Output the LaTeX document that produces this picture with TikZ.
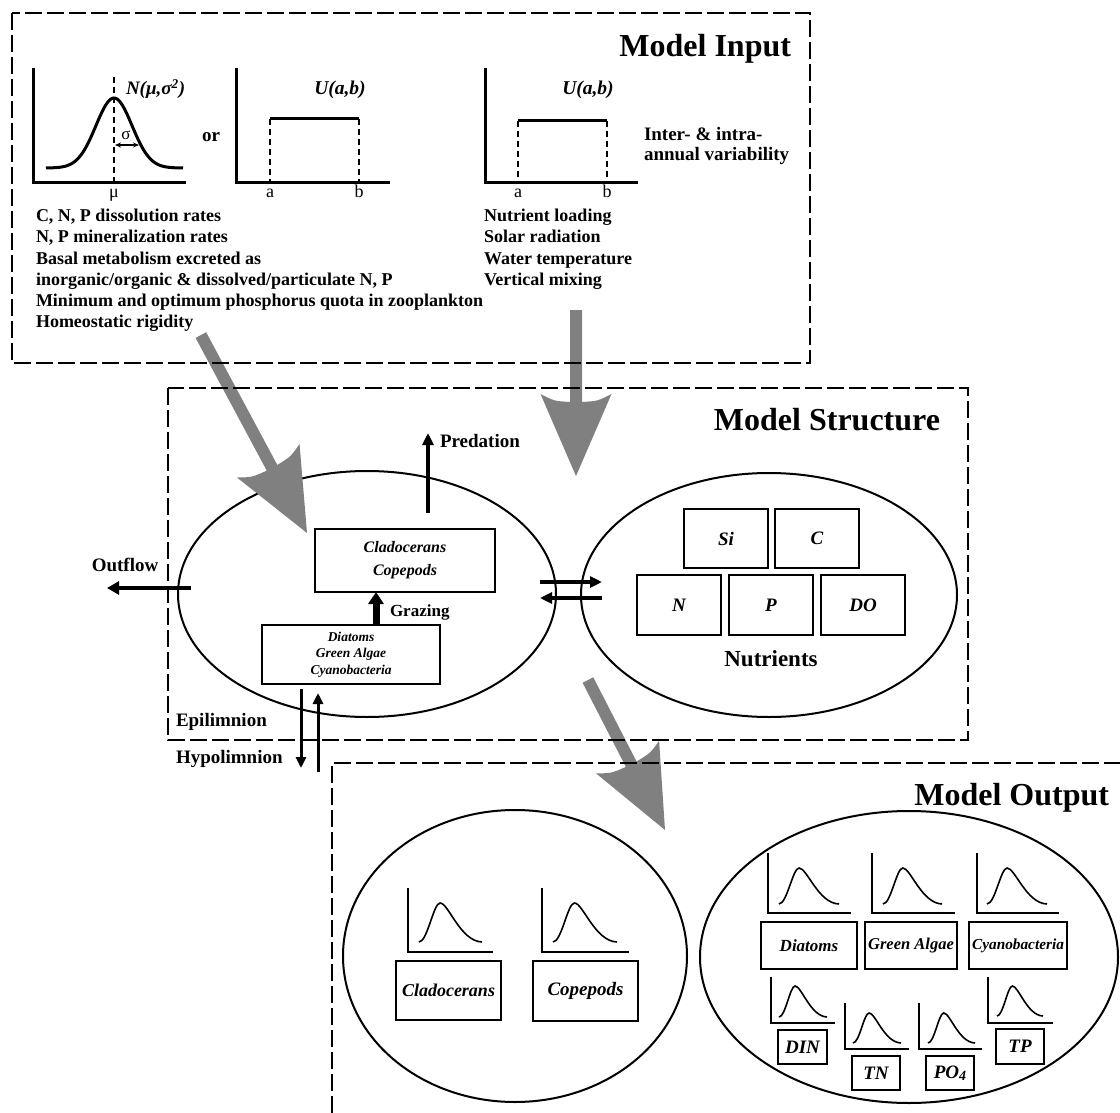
\documentclass[tikz,border=0pt]{standalone}
\usepackage{fontspec}
\setmainfont{Liberation Serif}
\usetikzlibrary{arrows.meta,shapes.geometric}
\definecolor{arrowgray}{gray}{0.5}
\newcommand\fsz[1]{\fontsize{#1}{#1}\selectfont}
% gray arrow: tip, canvas angle, total length
\newcommand\grayarr[3]{%
  \begin{scope}[shift={#1},rotate=#2]
    \fill[arrowgray] (0,0) -- (-82,35.5) .. controls (-75,22) .. (-74,6) -- (-#3,6) -- (-#3,-6) -- (-74,-6) .. controls (-75,-22) .. (-82,-35.5) -- cycle;
  \end{scope}}
% mini graph: axis x, top y, bottom y, right x, curve start x, base y, W, H
\newcommand\minigraph[8]{%
  \draw[miniaxis] (#1,#2) -- (#1,#3) -- (#4,#3);
  \begin{scope}[shift={(#5,#6)},xscale=#7,yscale=#8]
    \draw[minicurve] (0,0) .. controls (0.133,0) and (0.229,-1) .. (0.335,-1) .. controls (0.468,-1) and (0.654,-0.02) .. (1,0);
  \end{scope}}
\begin{document}
\begin{tikzpicture}[x=1pt,y=-1pt,
  every node/.style={inner sep=0pt,outer sep=0pt},
  dbox/.style={line width=2.5pt,dash pattern=on 17pt off 5pt},
  lake/.style={draw,ellipse,line width=2pt},
  axisline/.style={line width=3pt},
  bigcurve/.style={line width=3pt},
  thindash/.style={line width=1.5pt,dash pattern=on 6pt off 4pt},
  miniaxis/.style={line width=2pt},
  minicurve/.style={line width=1.6pt},
  ibox/.style={draw,line width=2pt,align=center},
  nbox/.style={draw,line width=2.5pt,font=\bfseries\itshape\fsz{19}},
  obox/.style={draw,line width=2.5pt},
  lbl/.style={font=\bfseries\fsz{19}},
  ]
\path[use as bounding box,fill=white] (0,0) rectangle (1120,1113);

% ---------- ellipses ----------
\node[lake,minimum width=378pt,minimum height=246pt] (epi) at (367,594) {};
\node[lake,minimum width=376pt,minimum height=244pt] (nut) at (769,595) {};
\node[lake,minimum width=344pt,minimum height=292pt] (ozoo) at (515,956) {};
\node[lake,minimum width=418pt,minimum height=292pt] (ophy) at (909,957) {};

% ---------- gray arrows ----------
\grayarr{(307,533)}{-61.8}{224.6}
\grayarr{(576,476)}{-90}{166}
\grayarr{(665,830)}{-62.8}{168.6}

% ---------- dashed frames ----------
\draw[dbox] (12,13) rectangle (810,363);
\draw[dbox] (168,388) rectangle (968,740);
\draw[dbox] (332,1113) -- (332,763) -- (1120,763);

% ---------- titles ----------
\node[anchor=base east,font=\bfseries\fsz{32}] (tin) at (791,57) {Model Input};
\node[anchor=base east,font=\bfseries\fsz{32}] (tstr) at (940,430) {Model Structure};
\node[anchor=base east,font=\bfseries\fsz{32}] (tout) at (1109,805) {Model Output};

% ---------- Model input graphs ----------
\draw[axisline] (33,68) -- (33,183) -- (186,183);
\draw[bigcurve] plot[domain=46:183,samples=80,smooth] (\x,{168-70*exp(-((\x-114)/18)^2/2)});
\draw[thindash] (114,77) -- (114,183);
\draw[line width=1.3pt,{Stealth[length=6pt 0 0,width=5pt 0 0]}-{Stealth[length=6pt 0 0,width=5pt 0 0]}] (115,145) -- (139,145);
\node[anchor=base,font=\fsz{17}] (sig) at (126,140) {σ};
\node[anchor=base,font=\fsz{18}] (mu) at (114,198) {μ};
\node[anchor=base west,font=\bfseries\itshape\fsz{19}] (nlab) at (126,95) {N(μ,σ\textsuperscript{2})};
\node[anchor=base,font=\bfseries\fsz{19}] (or) at (211,142) {or};

\draw[axisline] (236,68) -- (236,183) -- (390,183);
\draw[axisline] (270,119) -- (359,119);
\draw[thindash] (270,119) -- (270,183);
\draw[thindash] (359,119) -- (359,183);
\node[anchor=base,font=\fsz{18}] (a1) at (270,198) {a};
\node[anchor=base,font=\fsz{18}] (b1) at (359,198) {b};
\node[anchor=base,font=\bfseries\itshape\fsz{19.5}] (u1) at (340,95) {U(a,b)};

\draw[axisline] (485,68) -- (485,183) -- (638,183);
\draw[axisline] (518,121) -- (607,121);
\draw[thindash] (518,121) -- (518,183);
\draw[thindash] (607,121) -- (607,183);
\node[anchor=base,font=\fsz{18}] (a2) at (518,198) {a};
\node[anchor=base,font=\fsz{18}] (b2) at (607,198) {b};
\node[anchor=base,font=\bfseries\itshape\fsz{19.5}] (u2) at (588,95) {U(a,b)};

\node[anchor=base west,lbl] (var1) at (644,141) {Inter- \& intra-};
\node[anchor=base west,lbl] (var2) at (644,161) {annual variability};

\begin{scope}[every node/.append style={anchor=base west,font=\bfseries\fsz{18}}]
\node (p1) at (36,222) {C, N, P dissolution rates};
\node (p2) at (36,243) {N, P mineralization rates};
\node (p3) at (36,264) {Basal metabolism excreted as};
\node (p4) at (36,285) {inorganic/organic \& dissolved/particulate N, P};
\node (p5) at (36,306) {Minimum and optimum phosphorus quota in zooplankton};
\node (p6) at (36,327) {Homeostatic rigidity};
\node (e1) at (484,222) {Nutrient loading};
\node (e2) at (484,243) {Solar radiation};
\node (e3) at (484,264) {Water temperature};
\node (e4) at (484,285) {Vertical mixing};
\end{scope}

% ---------- Model structure ----------
\node[ibox,minimum width=180pt,minimum height=63pt,font=\bfseries\itshape\fontsize{16}{23}\selectfont] (zoo) at (405,560.5)
  {Cladocerans\\Copepods};
\node[ibox,minimum width=178pt,minimum height=59pt,font=\bfseries\itshape\fontsize{13.5}{16.5}\selectfont] (phyto) at (351,654.5)
  {Diatoms\\Green Algae\\Cyanobacteria};

\coordinate (gx) at (376,0);
\draw[line width=7pt,-{Triangle[length=12pt 0 0,width=15pt 0 0]}] (phyto.north -| gx) -- (zoo.south -| gx);
\node[anchor=base west,font=\bfseries\fsz{17}] (graz) at (390,616) {Grazing};

\coordinate (pr0) at (428,513);
\coordinate (pr1) at (428,433);
\draw[line width=3.5pt,-{Triangle[length=12pt 0 0,width=11pt 0 0]}] (pr0) -- (pr1);
\node[anchor=base west,lbl] (pred) at (440,447) {Predation};

\coordinate (of0) at (191,588);
\coordinate (of1) at (107,588);
\draw[line width=4pt,-{Triangle[length=12pt 0 0,width=13pt 0 0]}] (of0) -- (of1);
\node[anchor=base,lbl] (outf) at (125,571) {Outflow};

\coordinate (da0) at (540,582);
\coordinate (da1) at (602,582);
\coordinate (db0) at (602,598);
\coordinate (db1) at (540,598);
\draw[line width=4pt,-{Triangle[length=12pt 0 0,width=11pt 0 0]}] (da0) -- (da1);
\draw[line width=4pt,-{Triangle[length=12pt 0 0,width=11pt 0 0]}] (db0) -- (db1);

\node[nbox,minimum width=84pt,minimum height=59pt] (si) at (726,538.5) {Si};
\node[nbox,minimum width=84pt,minimum height=59pt] (cc) at (817,538.5) {C};
\node[nbox,minimum width=84pt,minimum height=60pt] (nn) at (679,605) {N};
\node[nbox,minimum width=84pt,minimum height=60pt] (pp) at (771,605) {P};
\node[nbox,minimum width=84pt,minimum height=60pt] (do) at (863,605) {DO};
\node[anchor=base,font=\bfseries\fsz{23}] (nutl) at (771,666) {Nutrients};

\coordinate (vd0) at (301,689);
\coordinate (vd1) at (301,768);
\coordinate (vu0) at (318,772);
\coordinate (vu1) at (318,693);
\draw[line width=3pt,-{Triangle[length=11pt 0 0,width=10pt 0 0]}] (vd0) -- (vd1);
\draw[line width=3pt,-{Triangle[length=11pt 0 0,width=10pt 0 0]}] (vu0) -- (vu1);
\node[anchor=base west,lbl] (epil) at (176,726) {Epilimnion};
\node[anchor=base west,lbl] (hypl) at (176,763) {Hypolimnion};

% ---------- Model output ----------
\minigraph{408}{888}{952}{493}{419}{942}{63}{39}
\minigraph{542}{888}{952}{629}{553}{942}{64}{39}
\node[obox,minimum width=105pt,minimum height=59pt,font=\bfseries\itshape\fsz{18}] (oclad) at (448.5,990.5) {Cladocerans};
\node[obox,minimum width=105pt,minimum height=60pt,font=\bfseries\itshape\fsz{19}] (ocope) at (585.5,991) {Copepods};

\minigraph{768}{853}{913}{851}{779}{904}{60}{36}
\minigraph{872}{853}{913}{955}{883}{904}{59}{36}
\minigraph{977}{853}{913}{1059}{987}{904}{60}{36}
\node[obox,minimum width=96pt,minimum height=47pt,font=\bfseries\itshape\fsz{17}] (odia) at (809,945.5) {Diatoms};
\node[obox,minimum width=92pt,minimum height=47pt,font=\bfseries\itshape\fsz{16.5}] (ogre) at (911,945.5) {Green Algae};
\node[obox,minimum width=98pt,minimum height=47pt,font=\bfseries\itshape\fsz{15.3}] (ocya) at (1018,945.5) {Cyanobacteria};

\minigraph{771}{977}{1023}{835}{779}{1017}{48}{31}
\minigraph{845}{1003}{1049}{909}{853}{1043}{48}{30}
\minigraph{919}{1003}{1049}{982}{928}{1043}{47}{30}
\minigraph{988}{977}{1023}{1053}{997}{1016}{46}{30}
\node[obox,minimum width=49pt,minimum height=34pt,font=\bfseries\itshape\fsz{19}] (odin) at (802.5,1047) {DIN};
\node[obox,minimum width=48pt,minimum height=34pt,font=\bfseries\itshape\fsz{19}] (otn) at (876,1073) {TN};
\node[obox,minimum width=48pt,minimum height=34pt,font=\bfseries\itshape\fsz{19}] (opo) at (950,1073) {PO\raisebox{-1.5pt}{\fsz{14}4}};
\node[obox,minimum width=48pt,minimum height=35pt,font=\bfseries\itshape\fsz{19}] (otp) at (1020,1046.5) {TP};
\end{tikzpicture}
\end{document}
